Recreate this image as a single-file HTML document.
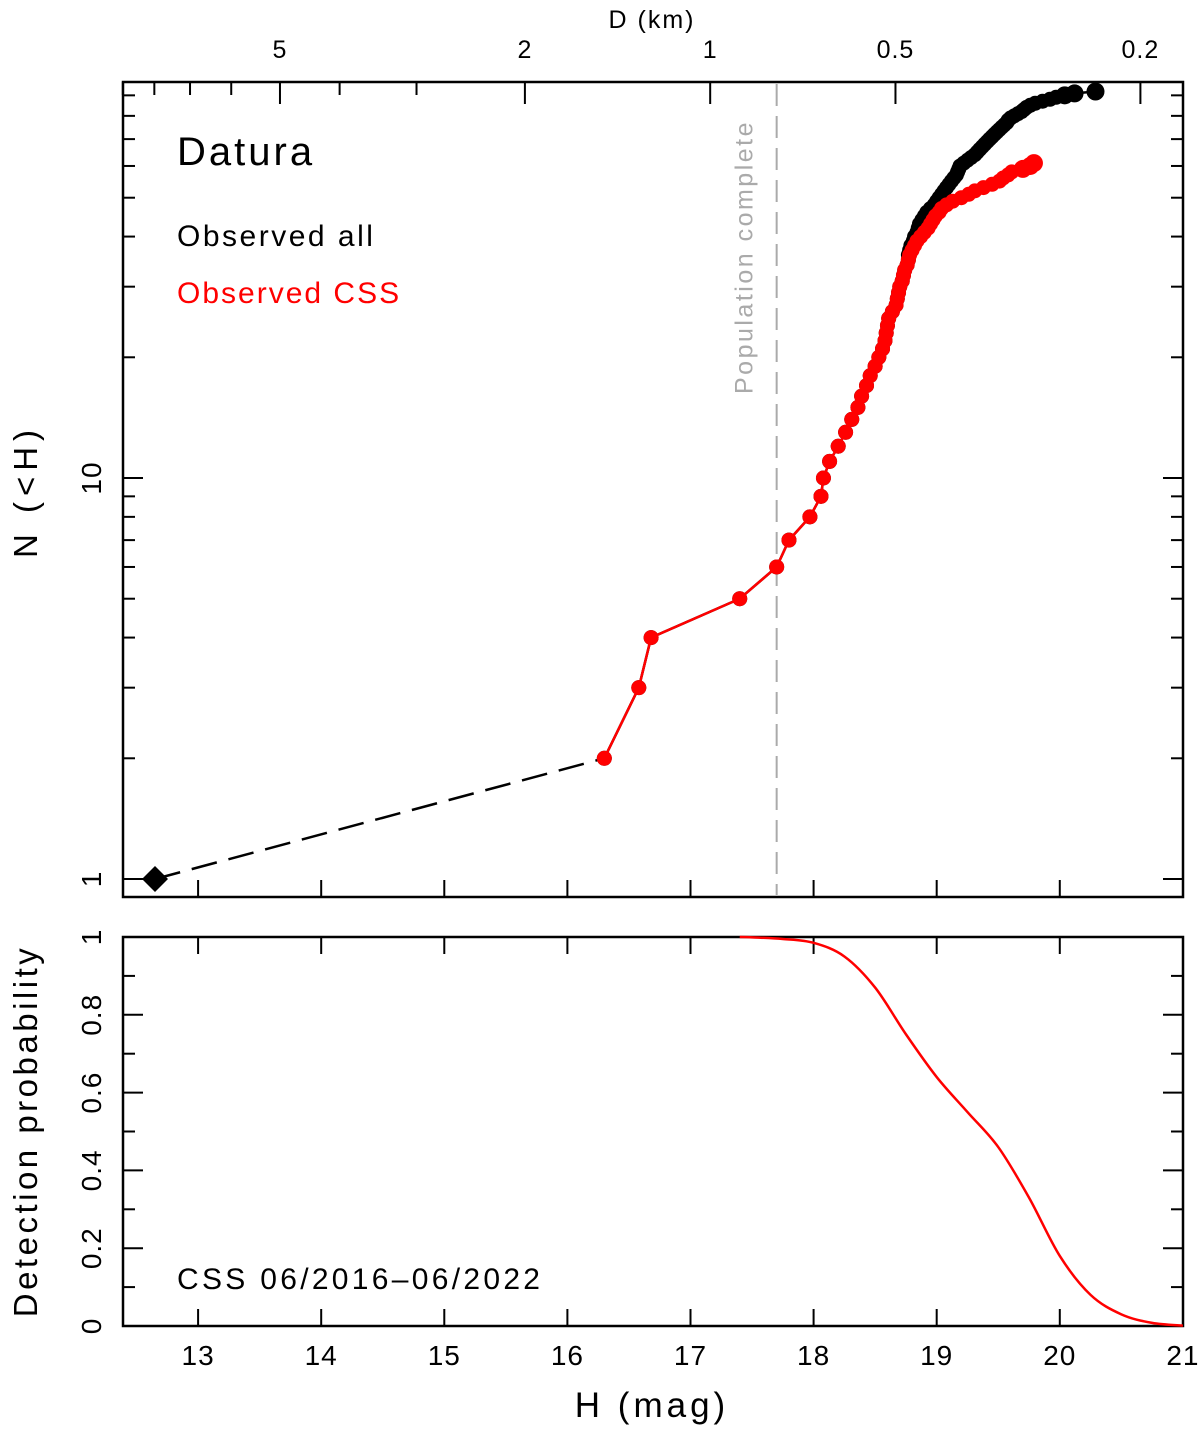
<!DOCTYPE html>
<html><head><meta charset="utf-8"><style>
html,body{margin:0;padding:0;background:#fff}
svg{display:block;font-family:"Liberation Sans",sans-serif}
</style></head><body>
<svg id="chart" width="1200" height="1429" viewBox="0 0 1200 1429" xmlns="http://www.w3.org/2000/svg"></svg>
<script>
const redH=[16.30,16.58,16.68,17.40,17.70,17.80,17.97,18.06,18.08,18.13,18.20,18.26,18.31,18.36,18.39,18.43,18.46,18.50,18.53,18.56,18.58,18.59,18.60,18.61,18.64,18.67,18.68,18.69,18.70,18.72,18.73,18.74,18.76,18.77,18.78,18.80,18.82,18.84,18.87,18.90,18.93,18.95,18.97,18.99,19.02,19.04,19.08,19.13,19.20,19.26,19.31,19.38,19.45,19.51,19.54,19.58,19.61,19.70,19.76,19.79];
const blackH=[16.30,16.58,16.68,17.40,17.70,17.80,17.97,18.06,18.08,18.13,18.20,18.26,18.31,18.36,18.39,18.43,18.46,18.50,18.53,18.56,18.58,18.59,18.60,18.61,18.64,18.67,18.68,18.69,18.70,18.72,18.73,18.74,18.76,18.77,18.77,18.78,18.79,18.81,18.82,18.84,18.85,18.86,18.88,18.90,18.92,18.95,18.98,19.00,19.02,19.04,19.06,19.08,19.10,19.12,19.14,19.16,19.17,19.18,19.19,19.22,19.25,19.28,19.31,19.33,19.35,19.37,19.39,19.41,19.43,19.45,19.47,19.49,19.51,19.53,19.55,19.57,19.58,19.60,19.63,19.66,19.69,19.71,19.73,19.76,19.80,19.86,19.92,19.97,20.04,20.12,20.29];
const firstH=12.65;
const probH=[17.4,17.5,17.75,18,18.25,18.5,18.75,19,19.25,19.5,19.75,20,20.25,20.5,20.75,21];
const probP=[1,0.999,0.995,0.985,0.95,0.87,0.75,0.64,0.55,0.46,0.33,0.18,0.08,0.03,0.008,0.001];
const hTicks=[13,14,15,16,17,18,19,20,21];
const dMajor=[5,2,1,0.5,0.2];
const dMinor=[9,8,7,6,4,3];
const pTicks=[0,0.2,0.4,0.6,0.8,1];
const completeH=17.7;

const svg=document.getElementById('chart');
const NS='http://www.w3.org/2000/svg';
const X0=123,X1=1183,H0=12.39,PX=123.1;
const x=h=>X0+(h-H0)*PX;
const yN=n=>879-Math.log10(n)*401;
const yP=p=>1326-p*389;
const hD=d=>17.16-5*Math.log10(d);
function el(t,a,txt){const e=document.createElementNS(NS,t);for(const k in a)e.setAttribute(k,a[k]);if(txt!==undefined)e.textContent=txt;svg.appendChild(e);return e;}

let e;
e=el('rect',{x:123,y:82,width:1060,height:815,fill:'none',stroke:'#000','stroke-width':2.5});


e=el('rect',{x:123,y:937,width:1060,height:389,fill:'none',stroke:'#000','stroke-width':2.5});



hTicks.forEach(h=>{
  const xx=x(h);
  if(h<21){
  e=el('line',{x1:xx,x2:xx,y1:897,y2:880,stroke:'#000','stroke-width':2});
  
  
  e=el('line',{x1:xx,x2:xx,y1:937,y2:954,stroke:'#000','stroke-width':2});
  
  
  e=el('line',{x1:xx,x2:xx,y1:1326,y2:1309,stroke:'#000','stroke-width':2});
  
  
  }
  e=el('text',{x:xx,y:1365,'font-size':28,'text-anchor':'middle','letter-spacing':1},String(h));
  
  
});
e=el('text',{x:652,y:1417,'font-size':35,'text-anchor':'middle','letter-spacing':4},'H (mag)');



dMajor.forEach(d=>{
  const xx=x(hD(d));
  e=el('line',{x1:xx,x2:xx,y1:82,y2:104,stroke:'#000','stroke-width':2});
  
  
  e=el('text',{x:xx,y:58,'font-size':25,'text-anchor':'middle','letter-spacing':1},String(d));
  
  
});
dMinor.forEach(d=>{
  const xx=x(hD(d));
  e=el('line',{x1:xx,x2:xx,y1:82,y2:95,stroke:'#000','stroke-width':2});
  
  
});
e=el('text',{x:652,y:28,'font-size':25,'text-anchor':'middle','letter-spacing':2},'D (km)');



[1,2,3,4,5,6,7,8,9,10,20,30,40,50,60,70,80,90].forEach(n=>{
  const yy=yN(n),L=(n===1||n===10)?20:12;
  e=el('line',{x1:123,x2:123+L,y1:yy,y2:yy,stroke:'#000','stroke-width':2});
  
  
  e=el('line',{x1:1183,x2:1183-L,y1:yy,y2:yy,stroke:'#000','stroke-width':2});
  
  
});
[1,10].forEach(n=>{
  e=el('text',{x:0,y:0,'font-size':28,'text-anchor':'middle','letter-spacing':1,transform:`translate(101,${yN(n)}) rotate(-90)`},String(n));
  
  
});
e=el('text',{x:0,y:0,'font-size':33,'text-anchor':'middle','letter-spacing':6,transform:'translate(37,491) rotate(-90)'},'N (<H)');



for(let i=0;i<=10;i++){
  const p=i/10,yy=yP(p),L=i%2===0?20:12;
  e=el('line',{x1:123,x2:123+L,y1:yy,y2:yy,stroke:'#000','stroke-width':2});
  
  
  e=el('line',{x1:1183,x2:1183-L,y1:yy,y2:yy,stroke:'#000','stroke-width':2});
  
  
}
pTicks.forEach(p=>{
  e=el('text',{x:0,y:0,'font-size':28,'text-anchor':'middle','letter-spacing':1,transform:`translate(101,${yP(p)}) rotate(-90)`},String(p));
  
  
});
e=el('text',{x:0,y:0,'font-size':33,'text-anchor':'middle','letter-spacing':3.5,transform:'translate(37,1131) rotate(-90)'},'Detection probability');



e=el('line',{x1:x(completeH),x2:x(completeH),y1:84,y2:895,stroke:'#aaa','stroke-width':2,'stroke-dasharray':'22,10'});


e=el('text',{x:0,y:0,'font-size':25,fill:'#aaa','text-anchor':'middle','letter-spacing':2.5,transform:`translate(${x(completeH)-24},257) rotate(-90)`},'Population complete');



e=el('line',{x1:x(firstH),y1:yN(1),x2:x(redH[0]),y2:yN(2),stroke:'#000','stroke-width':2.5,'stroke-dasharray':'26,12'});



function series(arr,color,name){
  const pts=arr.map((h,i)=>`${x(h)},${yN(i+2)}`).join(' ');
  let p=el('polyline',{points:pts,fill:'none',stroke:color,'stroke-width':2.5});
  
  
  arr.forEach((h,i)=>{
    const c=el('circle',{cx:x(h),cy:yN(i+2),r:i>=arr.length-3?9:7.5,fill:color});
    
    
  });
}
series(blackH,'#000','observed-all');
series(redH,'#f00','observed-css');

const dx=x(firstH),dy=yN(1);
e=el('polygon',{points:`${dx-13},${dy} ${dx},${dy-13} ${dx+13},${dy} ${dx},${dy+13}`,fill:'#000'});



const P=probH.map((h,i)=>[x(h),yP(probP[i])]);
let d=`M${P[0][0]},${P[0][1]}`;
for(let i=0;i<P.length-1;i++){
  const p0=P[Math.max(0,i-1)],p1=P[i],p2=P[i+1],p3=P[Math.min(P.length-1,i+2)];
  d+=` C${p1[0]+(p2[0]-p0[0])/6},${p1[1]+(p2[1]-p0[1])/6} ${p2[0]-(p3[0]-p1[0])/6},${p2[1]-(p3[1]-p1[1])/6} ${p2[0]},${p2[1]}`;
}
e=el('path',{d:d,fill:'none',stroke:'#f00','stroke-width':2.5});



e=el('text',{x:177,y:165,'font-size':40,'letter-spacing':3},'Datura');


e=el('text',{x:177,y:246,'font-size':30,'letter-spacing':2.5},'Observed all');


e=el('text',{x:177,y:303,'font-size':30,fill:'#f00','letter-spacing':2},'Observed CSS');


e=el('text',{x:177,y:1289,'font-size':30,'letter-spacing':3.3},'CSS 06/2016\u201306/2022');


</script>
</body></html>
